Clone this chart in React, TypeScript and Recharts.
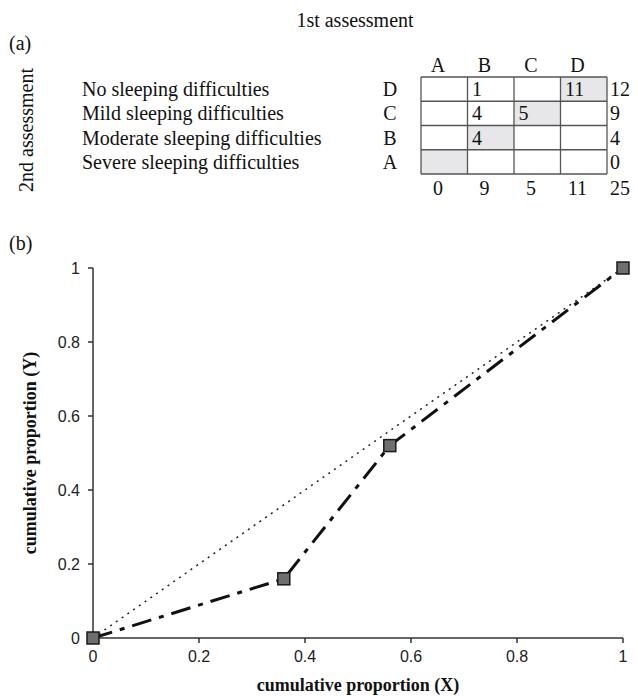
import { LineChart, Line, XAxis, YAxis } from "recharts"

// (a) cross-table: 1st assessment (columns) vs 2nd assessment (rows)
const firstCats = ["A", "B", "C", "D"]
const rowCodes = ["D", "C", "B", "A"]
const rowLabels = [
  "No sleeping difficulties",
  "Mild sleeping difficulties",
  "Moderate sleeping difficulties",
  "Severe sleeping difficulties",
]
const counts: (number | null)[][] = [
  [null, 1, null, 11],
  [null, 4, 5, null],
  [null, 4, null, null],
  [null, null, null, null],
]
const rowTotals = [12, 9, 4, 0]
const colTotals = [0, 9, 5, 11]
const grandTotal = 25

// (b) cumulative proportions
const cumX = [0, 0.36, 0.56, 1]
const cumY = [0, 0.16, 0.52, 1]
const diagX = [0, 1]
const diagY = [0, 1]
const axisTicks = [0, 0.2, 0.4, 0.6, 0.8, 1]

const serif = "Liberation Serif"
const sans = "Liberation Sans"

const tableLeft = 421
const tableTop = 77
const colW = 46.5
const rowH = 24.25

function SquareDot(props: any) {
  const { cx, cy, index } = props
  if (cx == null || cy == null) return null
  return (
    <rect
      key={`sq-${index}`}
      x={cx - 6}
      y={cy - 6}
      width={12}
      height={12}
      fill="#6e6e6e"
      stroke="#1a1a1a"
      strokeWidth={1.5}
    />
  )
}

function CrossTable() {
  const nRows = rowCodes.length
  const nCols = firstCats.length
  return (
    <g fontFamily={serif} fontSize={20} fill="#111">
      <text x={355} y={27} textAnchor="middle">1st assessment</text>
      <text x={9} y={50}>(a)</text>
      <text x={33} y={130} textAnchor="middle" transform="rotate(-90, 33, 130)">
        2nd assessment
      </text>

      {/* diagonal shading */}
      {firstCats.map((_, c) => (
        <rect
          key={`sh-${c}`}
          x={tableLeft + c * colW}
          y={tableTop + (nRows - 1 - c) * rowH}
          width={colW}
          height={rowH}
          fill="#e7e7e9"
        />
      ))}

      {/* grid */}
      {Array.from({ length: nCols + 1 }).map((_, i) => (
        <line
          key={`v-${i}`}
          x1={tableLeft + i * colW}
          x2={tableLeft + i * colW}
          y1={tableTop}
          y2={tableTop + nRows * rowH}
          stroke="#555"
          strokeWidth={1.3}
        />
      ))}
      {Array.from({ length: nRows + 1 }).map((_, i) => (
        <line
          key={`h-${i}`}
          x1={tableLeft}
          x2={tableLeft + nCols * colW}
          y1={tableTop + i * rowH}
          y2={tableTop + i * rowH}
          stroke="#555"
          strokeWidth={1.3}
        />
      ))}

      {firstCats.map((c, i) => (
        <text key={`hd-${c}`} x={tableLeft + i * colW + 17} y={72} textAnchor="middle">
          {c}
        </text>
      ))}

      {rowLabels.map((label, r) => {
        const base = tableTop + r * rowH + 19
        return (
          <g key={`row-${r}`}>
            <text x={82} y={base}>{label}</text>
            <text x={390} y={base} textAnchor="middle">{rowCodes[r]}</text>
            {counts[r].map((v, c) =>
              v == null ? null : (
                <text key={`cell-${r}-${c}`} x={tableLeft + c * colW + 4.5} y={base}>
                  {v}
                </text>
              )
            )}
            <text x={610} y={base}>{rowTotals[r]}</text>
          </g>
        )
      })}

      {colTotals.map((v, c) => (
        <text key={`ct-${c}`} x={tableLeft + c * colW + 17} y={195} textAnchor="middle">
          {v}
        </text>
      ))}
      <text x={610} y={195}>{grandTotal}</text>

      <text x={9} y={250}>(b)</text>
    </g>
  )
}

export default function App() {
  const curve = cumX.map((x, i) => ({ x, y: cumY[i] }))
  const diagonal = diagX.map((x, i) => ({ x, y: diagY[i] }))

  return (
    <div style={{ position: "absolute", left: 0, top: 0, width: 638, height: 696, background: "white" }}>
      <svg width={638} height={696} style={{ position: "absolute", left: 0, top: 0 }}>
        <CrossTable />
        <text
          x={36}
          y={453}
          textAnchor="middle"
          fontFamily={serif}
          fontWeight="bold"
          fontSize={18}
          fill="#111"
          transform="rotate(-90, 36, 453)"
        >
          cumulative proportion (Y)
        </text>
        <text x={358} y={691} textAnchor="middle" fontFamily={serif} fontWeight="bold" fontSize={18} fill="#111">
          cumulative proportion (X)
        </text>
      </svg>

      <div style={{ position: "absolute", left: 0, top: 240 }}>
        <LineChart width={638} height={456} margin={{ top: 28, right: 15, left: 33, bottom: 28 }}>
          <XAxis
            type="number"
            dataKey="x"
            domain={[0, 1]}
            ticks={axisTicks}
            allowDuplicatedCategory={false}
            stroke="#333"
            strokeWidth={1.5}
            tickSize={5}
            tickMargin={8}
            height={30}
            tick={{ fill: "#222", fontSize: 16, fontFamily: sans }}
          />
          <YAxis
            type="number"
            dataKey="y"
            domain={[0, 1]}
            ticks={axisTicks}
            stroke="#333"
            strokeWidth={1.5}
            tickSize={5}
            tickMargin={8}
            width={60}
            tick={{ fill: "#222", fontSize: 16, fontFamily: sans }}
          />
          <Line
            data={diagonal}
            dataKey="y"
            type="linear"
            stroke="#222"
            strokeWidth={1.5}
            strokeDasharray="2 5"
            dot={false}
            activeDot={false}
            isAnimationActive={false}
          />
          <Line
            data={curve}
            dataKey="y"
            type="linear"
            stroke="#111"
            strokeWidth={3}
            strokeDasharray="20 8 5 8"
            dot={SquareDot}
            activeDot={false}
            isAnimationActive={false}
          />
        </LineChart>
      </div>
    </div>
  )
}
